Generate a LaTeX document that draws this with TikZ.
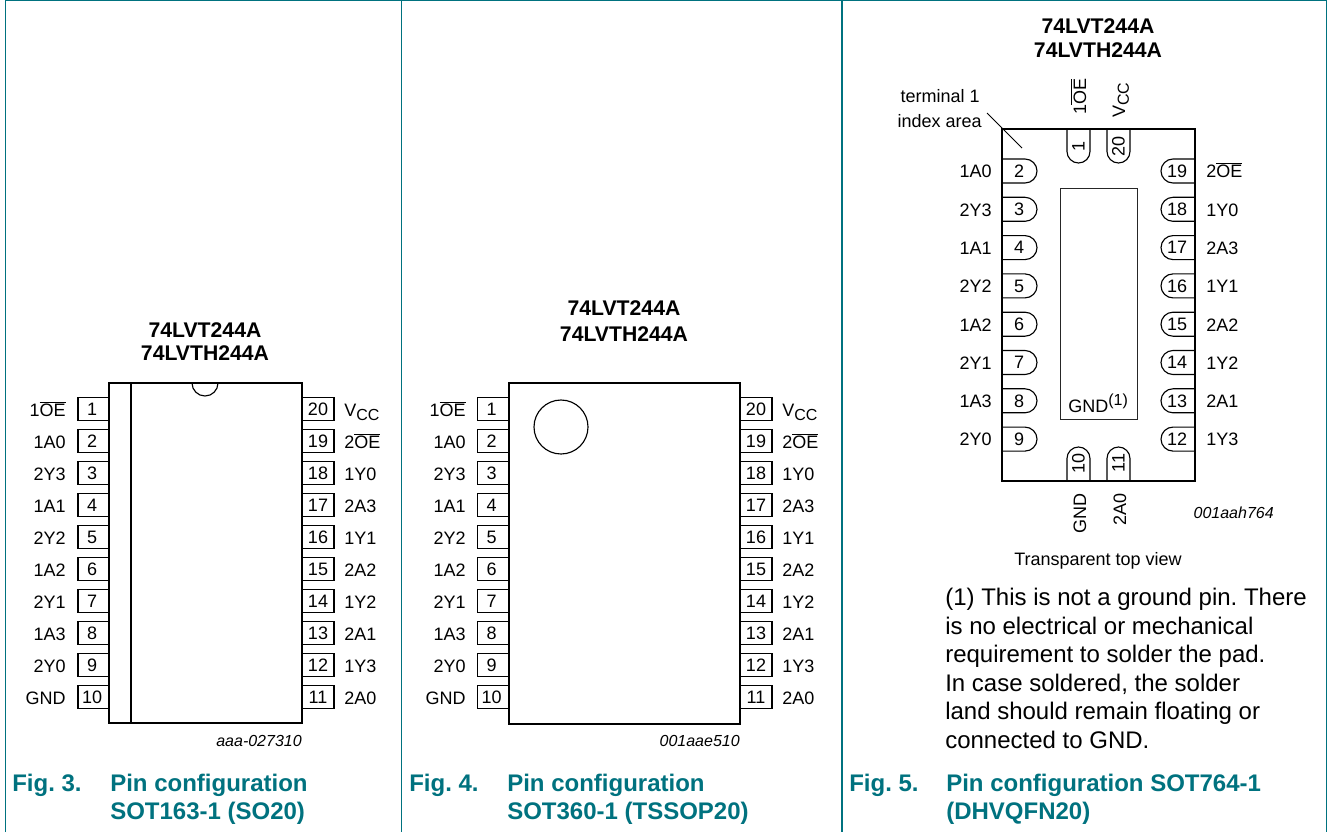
\documentclass[tikz,border=0pt]{standalone}
\usepackage{fontspec}
\setmainfont{Liberation Sans}
\frenchspacing
\definecolor{nxpteal}{HTML}{00727F}
\newcommand{\ovl}[1]{\ensuremath{\overline{\hbox{#1}}}}
\newcommand{\vcc}{V\raisebox{-0.22em}{\fontsize{12pt}{12pt}\selectfont CC}}
\tikzset{
  panelline/.style={draw=nxpteal,line width=0.9pt},
  body/.style={draw=black,line width=2.1pt,line cap=round,line join=miter},
  thinln/.style={draw=black,line width=0.85pt},
  padln/.style={draw=black!85,line width=0.7pt},
  pinbox/.style={draw=black,line width=0.85pt,rectangle,inner sep=0pt,minimum height=17.5pt,text height=9.7pt,text depth=0pt,font=\fontsize{13.5pt}{16pt}\selectfont},
  lbl/.style={inner sep=0pt,font=\fontsize{13.5pt}{16pt}\selectfont},
  num/.style={inner sep=0pt,font=\fontsize{13.5pt}{16pt}\selectfont},
  codetxt/.style={inner sep=0pt,font=\fontsize{12pt}{14pt}\selectfont\itshape},
  ttl/.style={inner sep=0pt,font=\fontsize{15.9pt}{18pt}\selectfont\bfseries},
  figcap/.style={inner sep=0pt,anchor=base west,text=nxpteal,font=\fontsize{18pt}{20pt}\selectfont\bfseries},
  note/.style={inner sep=0pt,anchor=base west,font=\fontsize{18pt}{20pt}\selectfont},
}
\begin{document}
\begin{tikzpicture}[x=0.75pt,y=-0.75pt]
\useasboundingbox (0,0) rectangle (1328,832);
\fill[white] (0,0) rectangle (1328,832);
% panels
\coordinate (tl) at (5.5,0.7); \coordinate (tr) at (1326.7,0.7);
\coordinate (bl) at (5.5,832); \coordinate (br) at (1326.7,832);
\coordinate (m1t) at (401.7,0.7); \coordinate (m1b) at (401.7,832);
\coordinate (m2t) at (842,0.7); \coordinate (m2b) at (842,832);
\draw[panelline] (bl) -- (tl) -- (tr) -- (br);
\draw[panelline] (m1t) -- (m1b);
\draw[panelline] (m2t) -- (m2b);
% dual in line pins
\foreach \n/\t [count=\i from 0] in {1/{1\ovl{OE}},2/1A0,3/2Y3,4/1A1,5/2Y2,6/1A2,7/2Y1,8/1A3,9/2Y0,10/GND}{
  \pgfmathsetmacro{\yy}{409+32*\i}
  \node[pinbox,minimum width=23.3pt] (a\n) at (93.5,\yy) {\kern-2pt\n};
  \node[lbl,anchor=base east] (al\n) at (66,\yy+7.5) {\t};
  \node[pinbox,minimum width=23.3pt] (b\n) at (493,\yy) {\kern-2pt\n};
  \node[lbl,anchor=base east] (bl\n) at (466,\yy+7.5) {\t};
}
\foreach \n/\t [count=\i from 0] in {20/{\vcc},19/{2\ovl{OE}},18/1Y0,17/2A3,16/1Y1,15/2A2,14/1Y2,13/2A1,12/1Y3,11/2A0}{
  \pgfmathsetmacro{\yy}{409+32*\i}
  \node[pinbox,minimum width=24pt] (a\n) at (318,\yy) {\n};
  \node[lbl,anchor=base west] (al\n) at (344,\yy+7.5) {\t};
  \node[pinbox,minimum width=24pt] (b\n) at (756,\yy) {\n};
  \node[lbl,anchor=base west] (bl\n) at (782,\yy+7.5) {\t};
}
% Fig 3 body
\fill[white] (109,383) rectangle (302,723);
\draw[thinln] (131,383) -- (131,723);
\draw[thinln] (192,383) arc[start angle=180,end angle=0,radius=13];
\draw[body] (109,383) rectangle (302,723);
\node[ttl,anchor=base] (t3a) at (205,337.5) {74LVT244A};
\node[ttl,anchor=base] (t3b) at (205,360.5) {74LVTH244A};
\node[codetxt,anchor=base east] (c3) at (302,746) {aaa-027310};
\node[figcap] (f3) at (12,791) {Fig. 3.};
\node[figcap] (g3a) at (110,791) {Pin configuration};
\node[figcap] (g3b) at (110,819) {SOT163-1 (SO20)};
% Fig 4 body
\fill[white] (509,383) rectangle (740,724);
\draw[thinln] (561,427) circle[radius=27];
\draw[body] (509,383) rectangle (740,724);
\node[ttl,anchor=base] (t4a) at (624,315) {74LVT244A};
\node[ttl,anchor=base] (t4b) at (624,341) {74LVTH244A};
\node[codetxt,anchor=base east] (c4) at (740,746) {001aae510};
\node[figcap] (f4) at (409,791) {Fig. 4.};
\node[figcap] (g4a) at (507,791) {Pin configuration};
\node[figcap] (g4b) at (507,819) {SOT360-1 (TSSOP20)};
% Fig 5
\foreach \n/\t [count=\i from 0] in {2/1A0,3/2Y3,4/1A1,5/2Y2,6/1A2,7/2Y1,8/1A3,9/2Y0}{
  \pgfmathsetmacro{\yy}{171+38.3*\i}
  \draw[thinln] (1002,\yy-12) -- (1025,\yy-12) arc[start angle=-90,end angle=90,radius=12] -- (1002,\yy+12);
  \node[num] (c\n) at (1019,\yy) {\n};
  \node[lbl,anchor=base east] (cl\n) at (992,\yy+6.8) {\t};
}
\foreach \n/\t [count=\i from 0] in {19/{2\ovl{OE}},18/1Y0,17/2A3,16/1Y1,15/2A2,14/1Y2,13/2A1,12/1Y3}{
  \pgfmathsetmacro{\yy}{171+38.3*\i}
  \draw[thinln] (1195,\yy-12) -- (1173,\yy-12) arc[start angle=-90,end angle=-270,radius=12] -- (1195,\yy+12);
  \node[num] (c\n) at (1177,\yy) {\n};
  \node[lbl,anchor=base west] (cl\n) at (1206,\yy+6.8) {\t};
}
\foreach \n/\xx in {1/1078.5,20/1118.5}{
  \draw[thinln] (\xx-11.5,129) -- (\xx-11.5,151.5) arc[start angle=180,end angle=0,radius=11.5] -- (\xx+11.5,129);
  \node[num,rotate=90] (c\n) at (\xx,146) {\n};
}
\foreach \n/\xx in {10/1078.5,11/1118.5}{
  \draw[thinln] (\xx-11.5,481) -- (\xx-11.5,458.5) arc[start angle=180,end angle=360,radius=11.5] -- (\xx+11.5,481);
  \node[num,rotate=90] (c\n) at (\xx,463) {\n};
}
\node[lbl,rotate=90,anchor=base west] (clt1) at (1086,115) {1\ovl{OE}};
\node[lbl,rotate=90,anchor=base west] (clt2) at (1125,118) {\vcc};
\node[lbl,rotate=90,anchor=base east] (clb1) at (1086,493) {GND};
\node[lbl,rotate=90,anchor=base east] (clb2) at (1126,493) {2A0};
\node[padln,rectangle,minimum width=57.75pt,minimum height=173.25pt,inner sep=0pt] (pad) at (1098.5,303.5) {};
\node[lbl,anchor=base west] (padt) at (1068,412) {GND\raisebox{0.35em}{\fontsize{12pt}{12pt}\selectfont (1)}};
\draw[body] (1002,129) rectangle (1195,481);
\coordinate (ld1) at (987,113); \coordinate (ld2) at (1022,148);
\draw[thinln,line width=0.6pt] (ld1) -- (ld2);
\node[lbl,anchor=base east] (term1) at (980,102) {terminal 1};
\node[lbl,anchor=base east] (term2) at (982,127) {index area};
\node[ttl,anchor=base] (t5a) at (1098,33) {74LVT244A};
\node[ttl,anchor=base] (t5b) at (1098,57) {74LVTH244A};
\node[codetxt,anchor=base east] (c5) at (1274,518) {001aah764};
\node[lbl,anchor=base] (tv) at (1098,565) {Transparent top view};
\node[note] (n1) at (945,605) {(1) This is not a ground pin. There};
\node[note] (n2) at (945,634) {is no electrical or mechanical};
\node[note] (n3) at (945,662) {requirement to solder the pad.};
\node[note] (n4) at (945,691) {In case soldered, the solder};
\node[note] (n5) at (945,719) {land should remain floating or};
\node[note] (n6) at (945,748) {connected to GND.};
\node[figcap] (f5) at (849,791) {Fig. 5.};
\node[figcap] (g5a) at (946,791) {Pin configuration SOT764-1};
\node[figcap] (g5b) at (946,819) {(DHVQFN20)};
\end{tikzpicture}
\end{document}
